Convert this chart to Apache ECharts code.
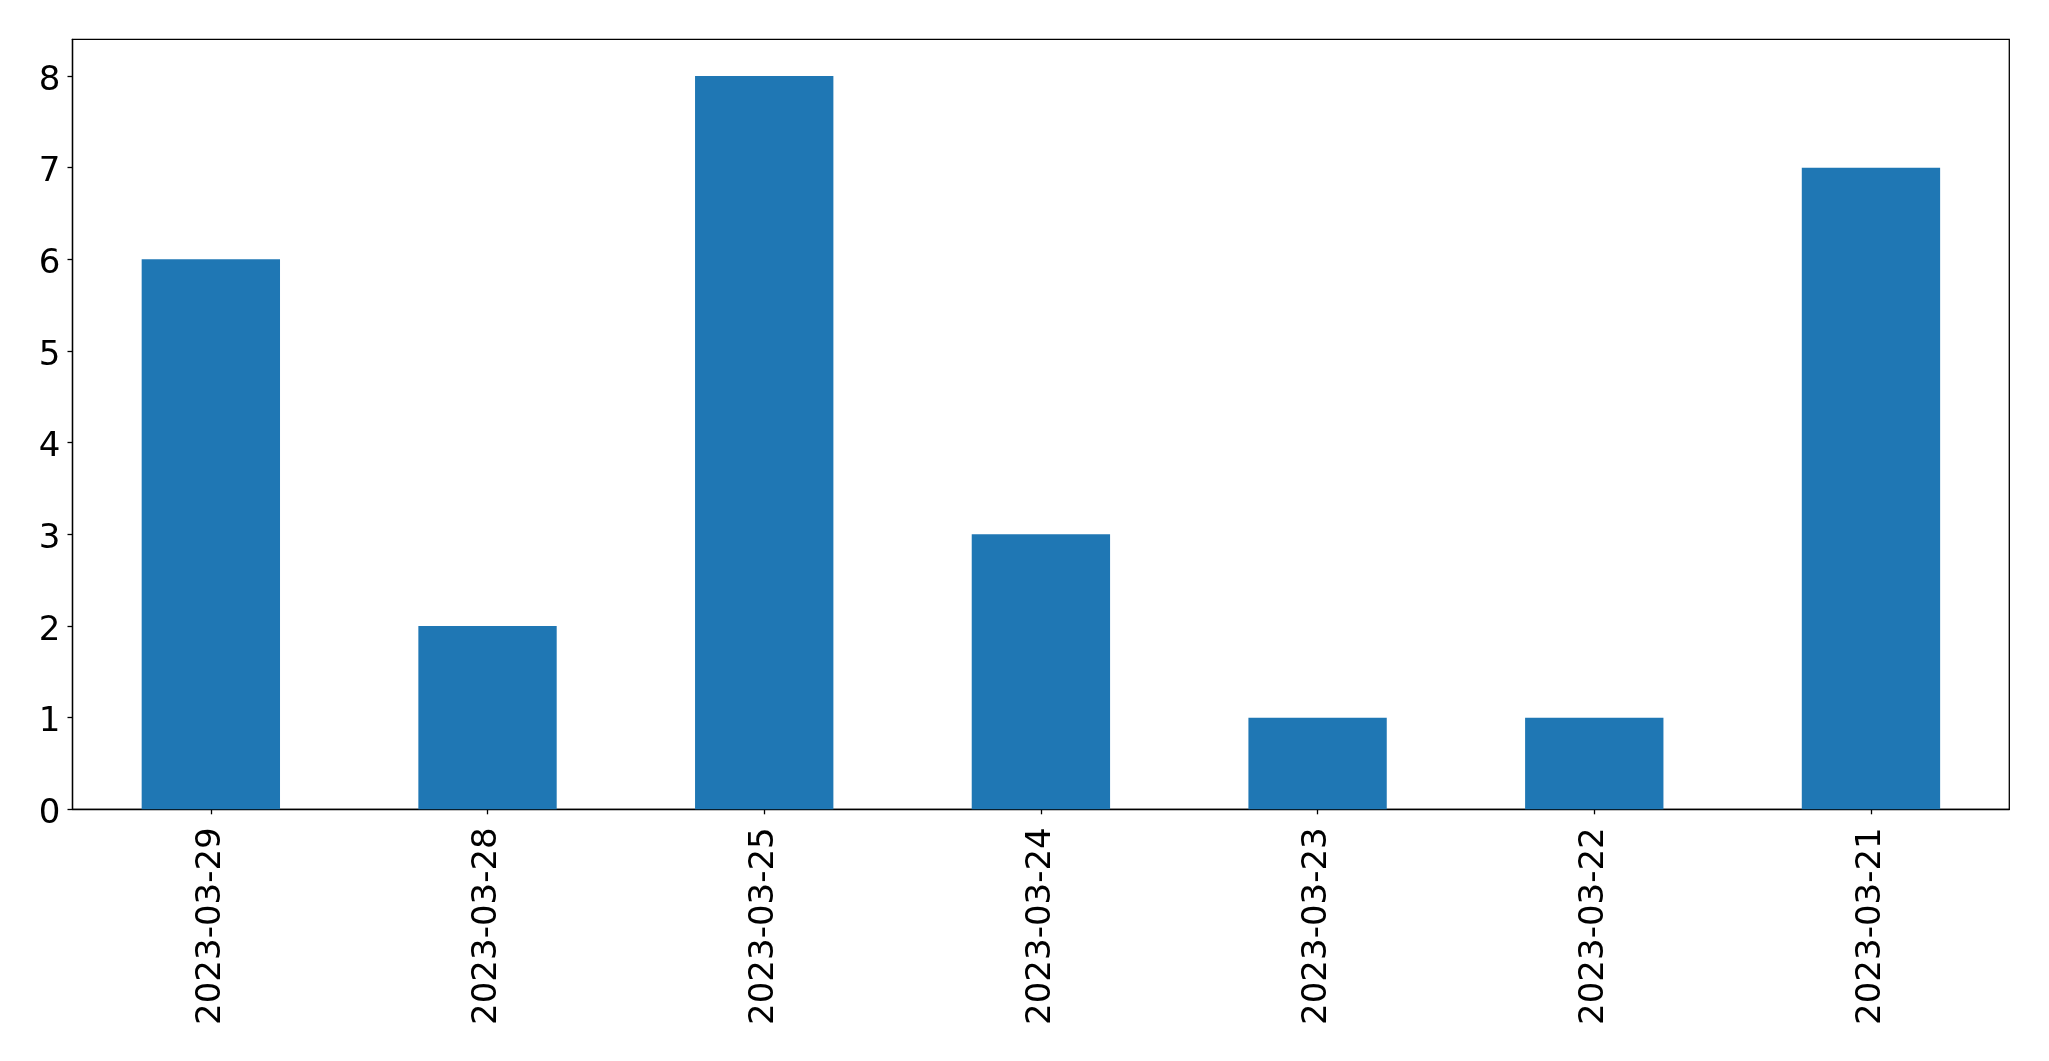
<!DOCTYPE html>
<html><head><meta charset="utf-8">
<script src="https://cdn.jsdelivr.net/npm/echarts@6/dist/echarts.min.js"></script>
<style>html,body{margin:0;padding:0;background:#fff}#c{width:2049px;height:1061px}</style>
</head><body><div id="c"></div>
<script>
const categories = ["2023-03-29","2023-03-28","2023-03-25","2023-03-24","2023-03-23","2023-03-22","2023-03-21"];
const values = [6,2,8,3,1,1,7];
const yTicks = [0,1,2,3,4,5,6,7,8];

const chart = echarts.init(document.getElementById('c'), null, {renderer:'canvas'});
const font = 'DejaVu Sans';
chart.setOption({
  animation:false,
  backgroundColor:'#fff',
  grid:{left:72.5,right:39.7,top:39.3,bottom:251.7,show:true,borderColor:'#000',borderWidth:1.3,backgroundColor:'transparent'},
  xAxis:{type:'category',data:categories,boundaryGap:true,
    axisLine:{show:true,lineStyle:{color:'#000',width:1.3}},
    axisTick:{show:true,alignWithLabel:true,length:5,lineStyle:{color:'#000',width:1.3}},
    axisLabel:{rotate:90,margin:18,fontFamily:font,fontSize:34,color:'#000'}},
  yAxis:{type:'value',min:0,max:8.4,
    splitLine:{show:false},
    axisLine:{show:true,lineStyle:{color:'#000',width:1.3}},
    axisTick:{show:true,length:5,customValues:yTicks,lineStyle:{color:'#000',width:1.3}},
    axisLabel:{margin:12,color:'#000',customValues:yTicks,
      formatter:function(v){return '{v|'+v+'}';},
      rich:{v:{fontFamily:font,fontSize:34,color:'#000',padding:[10,0,0,0]}}}},
  series:[{type:'bar',data:values,barWidth:'50%',itemStyle:{color:'#1f77b4'}}]
});
</script></body></html>
